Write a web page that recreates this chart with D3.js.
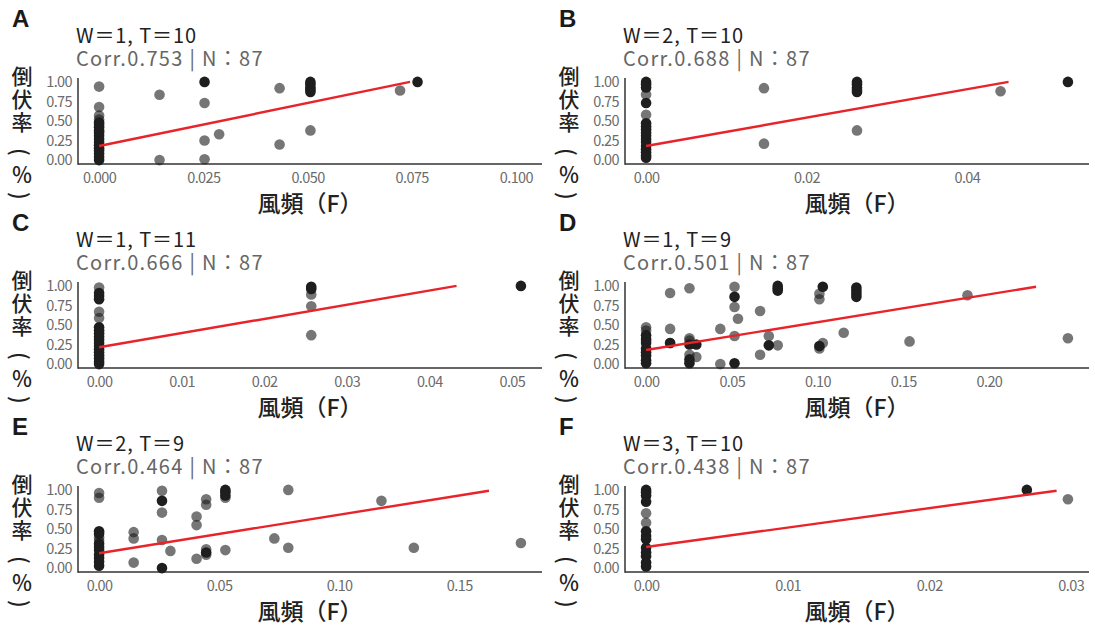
<!DOCTYPE html>
<html><head><meta charset="utf-8">
<script src="https://cdn.jsdelivr.net/npm/d3@7"></script>
<style>
html,body{margin:0;padding:0;background:#fff;}
svg{display:block;font-family:"Noto Sans CJK JP","Noto Sans",sans-serif;}
</style></head><body>
<svg id="chart" width="1095" height="628"></svg>
<script>
// ---------- data ----------
const panelLabels = ["A","B","C","D","E","F"];
const titles = ["W＝1, T＝10","W＝2, T＝10","W＝1, T＝11","W＝1, T＝9","W＝2, T＝9","W＝3, T＝10"];
const corrValues = ["0.753","0.688","0.666","0.501","0.464","0.438"];
const nValues = [87,87,87,87,87,87];
const xMaxValues = [0.1012,0.0526,0.0511,0.2461,0.1757,0.0298];
const xTickValues = [
  [0,0.025,0.05,0.075,0.1],
  [0,0.02,0.04],
  [0,0.01,0.02,0.03,0.04,0.05],
  [0,0.05,0.10,0.15,0.20],
  [0,0.05,0.10,0.15],
  [0,0.01,0.02,0.03]
];
const xTickDecimals = [3,2,2,2,2,2];
const yTickValues = [0,0.25,0.5,0.75,1];
const yTitleWord = "倒伏率";
const yTitleUnit = ["(","％",")"];

const grayA = [[0,0.94],[0,0.68],[0,0.57],[0,0.52],[0.0145,0.835],[0.0145,0.0],[0.0253,0.73],[0.0253,0.25],[0.0253,0.01],[0.0288,0.33],[0.0433,0.92],[0.0433,0.2],[0.0507,0.38],[0.0722,0.89]];
const blackA = [[0,0.48],[0,0.45],[0,0.42],[0,0.38],[0,0.35],[0,0.31],[0,0.27],[0,0.23],[0,0.19],[0,0.15],[0,0.12],[0,0.08],[0,0.04],[0,0.0],[0.0253,1.0],[0.0507,1.0],[0.0507,0.97],[0.0507,0.93],[0.0507,0.9],[0.0507,0.87],[0.0764,1.0]];
const lineA = [[0,0.18],[0.0746,1.0]];

const grayB = [[0,0.84],[0,0.58],[0.0147,0.92],[0.0147,0.21],[0.0263,0.38],[0.0442,0.88]];
const blackB = [[0,1.0],[0,0.97],[0,0.93],[0,0.73],[0,0.47],[0,0.43],[0,0.39],[0,0.35],[0,0.31],[0,0.27],[0,0.23],[0,0.18],[0,0.14],[0,0.1],[0,0.06],[0,0.03],[0.0263,1.0],[0.0263,0.97],[0.0263,0.93],[0.0263,0.9],[0.0263,0.87],[0.0526,1.0]];
const lineB = [[0,0.18],[0.0452,1.0]];

const grayC = [[0,0.98],[0,0.67],[0,0.59],[0.0257,0.89],[0.0257,0.74],[0.0257,0.37]];
const blackC = [[0,0.91],[0,0.87],[0,0.83],[0,0.47],[0,0.43],[0,0.39],[0,0.35],[0,0.31],[0,0.27],[0,0.23],[0,0.19],[0,0.15],[0,0.11],[0,0.07],[0,0.03],[0,0.0],[0.0257,0.99],[0.0257,0.96],[0.0511,1.0]];
const lineC = [[0,0.215],[0.0433,1.0]];

const grayD = [[0,0.47],[0,0.43],[0,0.3],[0.014,0.91],[0.014,0.45],[0.014,0.27],[0.0253,0.97],[0.0253,0.33],[0.0253,0.3],[0.0253,0.12],[0.0293,0.09],[0.0433,0.45],[0.0433,0.0],[0.0516,0.99],[0.0516,0.73],[0.0516,0.36],[0.0536,0.58],[0.0665,0.68],[0.0665,0.12],[0.0716,0.36],[0.0768,0.24],[0.1011,0.9],[0.1011,0.83],[0.1011,0.2],[0.1031,0.27],[0.1153,0.4],[0.1537,0.29],[0.1875,0.88],[0.2461,0.33]];
const blackD = [[0,0.37],[0,0.32],[0,0.27],[0,0.2],[0,0.15],[0,0.11],[0,0.05],[0,0.01],[0.014,0.27],[0.0253,0.25],[0.0253,0.06],[0.0253,0.01],[0.0293,0.25],[0.0516,0.86],[0.0516,0.01],[0.0716,0.24],[0.0768,1.0],[0.0768,0.97],[0.0768,0.94],[0.1011,0.23],[0.1031,0.99],[0.1227,0.98],[0.1227,0.94],[0.1227,0.9],[0.1227,0.86]];
const lineD = [[0,0.18],[0.2275,0.99]];

const grayE = [[0,0.96],[0,0.9],[0,0.39],[0,0.35],[0.0144,0.46],[0.0144,0.38],[0.0144,0.07],[0.0262,0.99],[0.0262,0.71],[0.0262,0.36],[0.0297,0.22],[0.0406,0.66],[0.0406,0.55],[0.0406,0.12],[0.0446,0.88],[0.0446,0.81],[0.0446,0.24],[0.0446,0.17],[0.0526,0.9],[0.0526,0.23],[0.073,0.38],[0.0788,1.0],[0.0788,0.26],[0.1176,0.86],[0.1311,0.26],[0.1757,0.32]];
const blackE = [[0,0.47],[0,0.44],[0,0.31],[0,0.27],[0,0.23],[0,0.17],[0,0.13],[0,0.08],[0,0.03],[0.0262,0.86],[0.0262,0.0],[0.0446,0.2],[0.0526,1.0],[0.0526,0.97],[0.0526,0.93]];
const lineE = [[0,0.19],[0.1624,0.99]];

const grayF = [[0,0.70],[0,0.58],[0.0298,0.88]];
const blackF = [[0,1.0],[0,0.97],[0,0.93],[0,0.85],[0,0.47],[0,0.41],[0,0.37],[0,0.26],[0,0.2],[0,0.15],[0,0.07],[0,0.02],[0.0269,1.0]];
const lineF = [[0,0.27],[0.029,0.99]];

const grays = [grayA,grayB,grayC,grayD,grayE,grayF];
const blacks = [blackA,blackB,blackC,blackD,blackE,blackF];
const lines = [lineA,lineB,lineC,lineD,lineE,lineF];

// ---------- layout ----------
const svg = d3.select("#chart");
const colX = [78, 625];
const rowY = [0, 204, 408];
const plotW = 464, plotTop = 78, plotBottom = 164;
const unitCenters = [152, 173, 196];
const unitRotate = [90, 0, 90];

panelLabels.forEach((lab, i) => {
  const ox = colX[i % 2];
  const oy = rowY[Math.floor(i / 2)];
  const g = svg.append("g").attr("transform", `translate(0,${oy})`);
  const xMax = xMaxValues[i];
  const x = d3.scaleLinear().domain([-0.05 * xMax, 1.05 * xMax]).range([ox, ox + plotW]);
  const y = d3.scaleLinear().domain([-0.05, 1.05]).range([plotBottom, plotTop]);

  // panel letter
  g.append("text").attr("x", ox - 66).attr("y", 27)
    .attr("font-family", "Liberation Sans, Arial, sans-serif")
    .attr("font-weight", "bold").attr("font-size", 24).attr("fill", "#1a1a1a").text(lab);
  // titles
  g.append("text").attr("x", ox - 2).attr("y", 43)
    .attr("font-size", 20).attr("letter-spacing", "0.9").attr("fill", "#222").text(titles[i]);
  g.append("text").attr("x", ox - 2).attr("y", 66)
    .attr("font-size", 20).attr("letter-spacing", "1.3").attr("fill", "#666")
    .text(`Corr.${corrValues[i]} | N：${nValues[i]}`);

  // axes
  const yAxis = d3.axisLeft(y).tickValues(yTickValues).tickSize(0).tickPadding(6).tickFormat(d3.format(".2f"));
  const yg = g.append("g").attr("transform", `translate(${ox},0)`).call(yAxis);
  yg.select(".domain").remove();
  yg.selectAll("text").attr("font-size", 14.5).attr("fill", "#6b6b6b")
    .attr("letter-spacing", "-0.6").attr("font-family", "Noto Sans CJK JP");

  const xAxis = d3.axisBottom(x).tickValues(xTickValues[i]).tickSize(0).tickPadding(9)
    .tickFormat(d3.format(`.${xTickDecimals[i]}f`));
  const xg = g.append("g").attr("transform", `translate(0,${plotBottom})`).call(xAxis);
  xg.select(".domain").remove();
  xg.selectAll("text").attr("font-size", 14.5).attr("fill", "#6b6b6b")
    .attr("letter-spacing", "-0.6").attr("font-family", "Noto Sans CJK JP");

  g.append("line").attr("x1", ox).attr("x2", ox).attr("y1", plotTop).attr("y2", plotBottom + 0.75)
    .attr("stroke", "#333").attr("stroke-width", 1.5);
  g.append("line").attr("x1", ox).attr("x2", ox + plotW).attr("y1", plotBottom).attr("y2", plotBottom)
    .attr("stroke", "#333").attr("stroke-width", 1.5);

  // axis titles
  g.append("text").attr("x", ox + plotW / 2).attr("y", 212).attr("text-anchor", "middle")
    .attr("font-size", 23).attr("font-weight", 500).attr("fill", "#222").text("風頻（F）");
  const cx = ox - 56;
  g.append("text").attr("x", cx).attr("y", 66)
    .style("writing-mode", "vertical-rl")
    .attr("font-size", 21).attr("letter-spacing", "2").attr("font-weight", 500).attr("fill", "#222")
    .text(yTitleWord);
  g.append("g").selectAll("text").data(yTitleUnit).join("text")
    .attr("x", cx).attr("y", (d, k) => unitCenters[k])
    .attr("transform", (d, k) => unitRotate[k] ? `rotate(${unitRotate[k]},${cx},${unitCenters[k]})` : null)
    .attr("text-anchor", "middle").attr("dominant-baseline", "central")
    .attr("font-size", (d, k) => unitRotate[k] ? 22 : 21).attr("font-weight", 500).attr("fill", "#222")
    .text(d => d);

  // points
  g.append("g").selectAll("circle").data(grays[i]).join("circle")
    .attr("cx", d => x(d[0])).attr("cy", d => y(d[1])).attr("r", 5.3)
    .attr("fill", "#1a1a1a").attr("fill-opacity", 0.6);
  g.append("g").selectAll("circle").data(blacks[i]).join("circle")
    .attr("cx", d => x(d[0])).attr("cy", d => y(d[1])).attr("r", 5.3)
    .attr("fill", "#1e1e1e");

  // regression line
  g.append("path").datum(lines[i])
    .attr("d", d3.line().x(d => x(d[0])).y(d => y(d[1])))
    .attr("stroke", "#e8232a").attr("stroke-width", 2.4).attr("fill", "none");
});
</script>
</body></html>
